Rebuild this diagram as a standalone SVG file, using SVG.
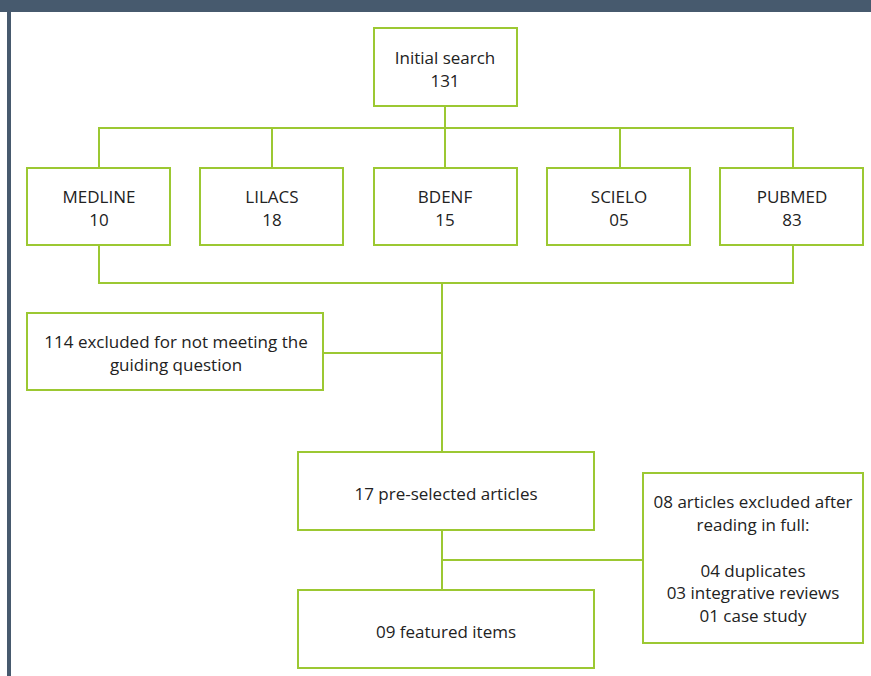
<svg xmlns="http://www.w3.org/2000/svg" width="871" height="676" viewBox="0 0 871 676">
<style>
.box{fill:#fff;stroke:#9cc832;stroke-width:2}
.ln{fill:none;stroke:#9cc832;stroke-width:2}
text{font-family:"Open Sans","Liberation Sans",sans-serif;font-size:17px;fill:#222;text-anchor:middle}
</style>
<rect x="0" y="0" width="871" height="676" fill="#fff"/>
<rect x="0" y="0" width="871" height="12" fill="#475a6e"/>
<rect x="7" y="12" width="4" height="664" fill="#475a6e"/>
<g id="connectors">
<path class="ln" d="M445 106V128M99 168V128H793V168M272 128V168M445 128V168M620 128V168"/>
<path class="ln" d="M99 245V283H793V245M442 283V452M323 353H442"/>
<path class="ln" d="M442 530V590M442 560H643"/>
</g>
<g id="initial"><rect class="box" x="374" y="28" width="143" height="78"/><text x="445" y="64">Initial search</text><text x="445" y="87">131</text></g>
<g id="medline"><rect class="box" x="27" y="168" width="143" height="77"/><text x="99" y="203">MEDLINE</text><text x="99" y="226">10</text></g>
<g id="lilacs"><rect class="box" x="200" y="168" width="143" height="77"/><text x="272" y="203">LILACS</text><text x="272" y="226">18</text></g>
<g id="bdenf"><rect class="box" x="374" y="168" width="143" height="77"/><text x="445" y="203">BDENF</text><text x="445" y="226">15</text></g>
<g id="scielo"><rect class="box" x="547" y="168" width="143" height="77"/><text x="619" y="203">SCIELO</text><text x="619" y="226">05</text></g>
<g id="pubmed"><rect class="box" x="720" y="168" width="143" height="77"/><text x="792" y="203">PUBMED</text><text x="792" y="226">83</text></g>
<g id="excluded"><rect class="box" x="27" y="313" width="296" height="77"/><text x="176" y="348">114 excluded for not meeting the</text><text x="176" y="371">guiding question</text></g>
<g id="preselected"><rect class="box" x="298" y="452" width="296" height="78"/><text x="446" y="500">17 pre-selected articles</text></g>
<g id="featured"><rect class="box" x="298" y="590" width="296" height="78"/><text x="446" y="638">09 featured items</text></g>
<g id="excluded2"><rect class="box" x="643" y="473" width="220" height="170"/><text x="753" y="508">08 articles excluded after</text><text x="753" y="531">reading in full:</text><text x="753" y="577">04 duplicates</text><text x="753" y="599">03 integrative reviews</text><text x="753" y="622">01 case study</text></g>
</svg>
